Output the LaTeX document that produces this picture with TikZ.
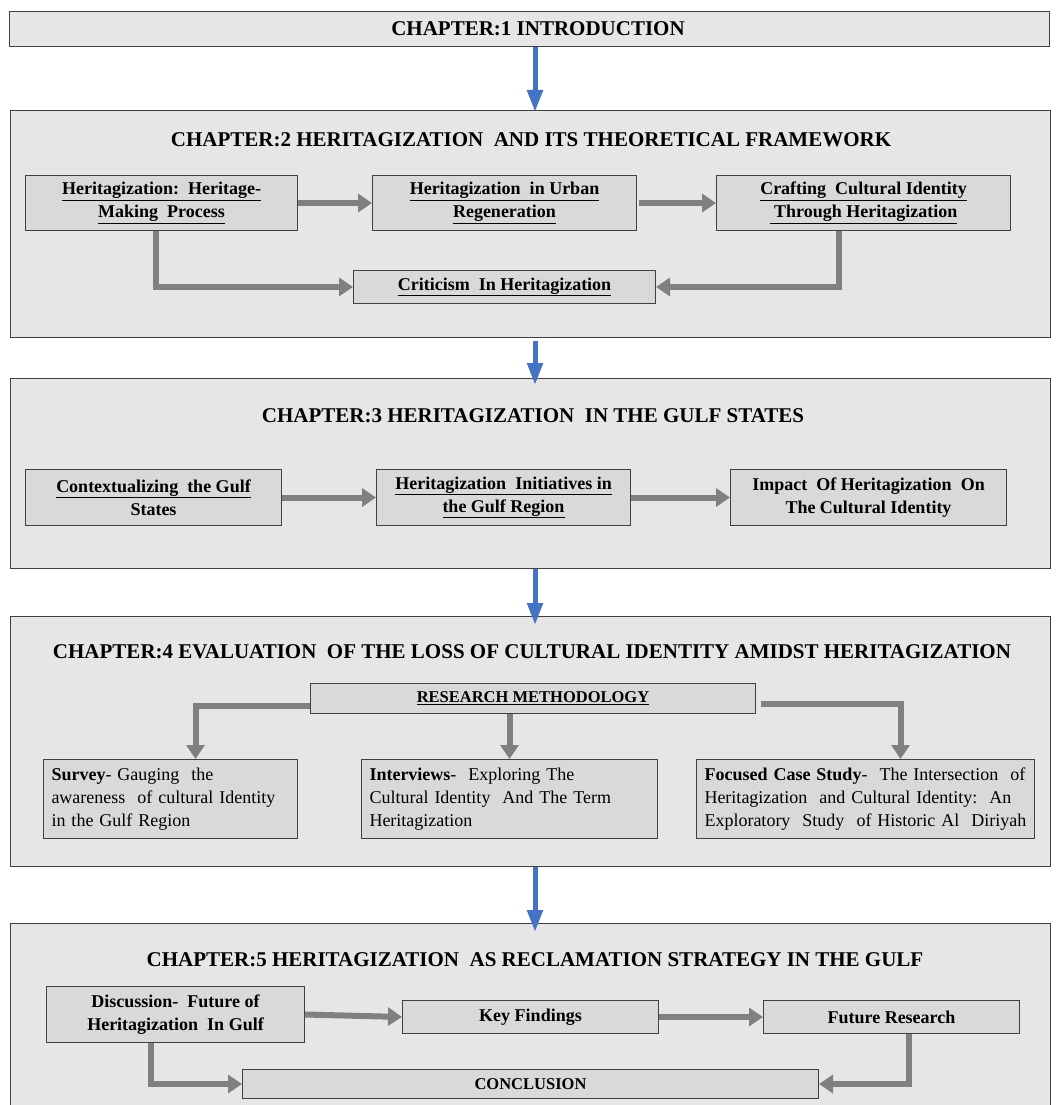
\documentclass[tikz,border=0pt]{standalone}
\usepackage{fontspec}
\setmainfont{Liberation Serif}
\usetikzlibrary{arrows.meta}
\definecolor{outerfill}{HTML}{E6E6E6}
\definecolor{subfill}{HTML}{D9D9D9}
\definecolor{edgecol}{HTML}{404040}
\definecolor{garr}{HTML}{808080}
\definecolor{barr}{HTML}{4472C4}
\begin{document}
\begin{tikzpicture}[x=1pt,y=-1pt,
  chapbox/.style={draw=edgecol, line width=1.2pt, fill=outerfill, anchor=north west, inner sep=0pt, minimum width=1040pt},
  subbox/.style={draw=edgecol, line width=1pt, fill=subfill, anchor=north west, inner sep=0pt, align=center},
  ttl/.style={inner sep=0pt, font=\fontsize{21}{25}\selectfont\bfseries},
  subtxt/.style={font=\fontsize{18}{23}\selectfont\bfseries},
  plaintxt/.style={font=\fontsize{18}{23}\selectfont, align=left, inner xsep=8pt},
  garrow/.style={draw=garr, line width=6pt, -{Triangle[length=14pt,width=18pt]}},
  barrow/.style={draw=barr, line width=5pt, -{Triangle[length=22pt,width=15pt]}}]
\useasboundingbox (0,0) rectangle (1058,1105);
\fill[white] (0,0) rectangle (1058,1105);
\coordinate (ax) at (535,0);

% Chapter boxes
\node[chapbox, minimum height=35pt] (ch1) at (9,11) {};
\node[chapbox, minimum height=227pt] (ch2) at (10,110) {};
\node[chapbox, minimum height=190pt] (ch3) at (10,378) {};
\node[chapbox, minimum height=250pt] (ch4) at (10,616) {};
\node[chapbox, minimum height=192pt] (ch5) at (10,923) {};

% Titles
\node[ttl] (t1) at (538,28.5) {CHAPTER:1 INTRODUCTION};
\node[ttl] (t2) at (531,140) {CHAPTER:2 HERITAGIZATION\ \ AND ITS THEORETICAL FRAMEWORK};
\node[ttl] (t3) at (533,416) {CHAPTER:3 HERITAGIZATION\ \ IN THE GULF STATES};
\node[ttl] (t4) at (532,652) {CHAPTER:4 EVALUATION\ \ OF THE LOSS OF CULTURAL IDENTITY AMIDST HERITAGIZATION};
\node[ttl] (t5) at (535,960) {CHAPTER:5 HERITAGIZATION\ \ AS RECLAMATION STRATEGY IN THE GULF};

% Blue arrows between chapters
\draw[barrow] (ch1.south -| ax) -- ([yshift=-2pt]ch2.north -| ax);
\draw[barrow] ([yshift=-3pt]ch2.south -| ax) -- ([yshift=-7pt]ch3.north -| ax);
\draw[barrow] (ch3.south -| ax) -- ([yshift=-9pt]ch4.north -| ax);
\draw[barrow] (ch4.south -| ax) -- ([yshift=-9pt]ch5.north -| ax);

% Chapter 2
\node[subbox, subtxt, minimum width=272pt, minimum height=55pt] (a) at (25,175) {\underline{Heritagization:\ \ Heritage-}\\\underline{Making\ \ Process}};
\node[subbox, subtxt, minimum width=264pt, minimum height=55pt] (b) at (372,175) {\underline{Heritagization\ \ in Urban}\\\underline{Regeneration}};
\node[subbox, subtxt, minimum width=294pt, minimum height=55pt] (c) at (716,175) {\underline{Crafting\ \ Cultural Identity}\\\underline{\ Through Heritagization}};
\node[subbox, subtxt, minimum width=302pt, minimum height=33pt] (d) at (353,270) {\underline{Criticism\ \ In Heritagization}};
\draw[garrow] (a.east) -- (b.west);
\draw[garrow] ([xshift=2pt]b.east) -- (c.west);
\draw[garrow] ([xshift=-6pt]a.south) |- (d.west);
\draw[garrow] ([xshift=-25pt]c.south) |- (d.east);

% Chapter 3
\node[subbox, subtxt, minimum width=256pt, minimum height=56pt] (e) at (25,469) {\underline{Contextualizing\ \ the Gulf}\\States};
\node[subbox, subtxt, minimum width=254pt, minimum height=56pt] (f) at (376,469) {\underline{Heritagization\ \ Initiatives in}\\\underline{the Gulf Region}};
\node[subbox, subtxt, minimum width=276pt, minimum height=56pt] (g) at (730,469) {Impact\ \ Of Heritagization\ \ On\\The Cultural Identity};
\draw[garrow] (e.east) -- (f.west);
\draw[garrow] (f.east) -- (g.west);

% Chapter 4
\node[subbox, minimum width=445pt, minimum height=30pt, font=\fontsize{16.5}{20}\selectfont\bfseries] (rm) at (310,683) {\underline{RESEARCH METHODOLOGY}};
\node[subbox, plaintxt, text width=238pt, minimum height=79pt] (s) at (43,759) {\mbox{\textbf{Survey}- Gauging\ \ the}\\\mbox{awareness\ \ of cultural Identity}\\\mbox{in the Gulf Region}};
\node[subbox, plaintxt, text width=280pt, minimum height=79pt] (i) at (361,759) {\mbox{\textbf{Interviews}-\ \ Exploring The}\\\mbox{Cultural Identity\ \ And The Term}\\\mbox{Heritagization}};
\node[subbox, plaintxt, text width=322pt, minimum height=79pt] (fc) at (696,759) {\mbox{\textbf{Focused Case Study}-\ \ The Intersection\ \ of}\\\mbox{Heritagization\ \ and Cultural Identity:\ \ An}\\\mbox{Exploratory\ \ Study\ \ of Historic Al\ \ Diriyah}};
\draw[garrow] ([yshift=-7pt]rm.west) -| ([xshift=25pt]s.north);
\draw[garrow] (rm.south -| i.north) -- (i.north);
\draw[garrow] ([xshift=5pt,yshift=-5pt]rm.east) -| ([xshift=35pt]fc.north);

% Chapter 5
\node[subbox, subtxt, minimum width=258pt, minimum height=56pt] (disc) at (46,986) {Discussion-\ \ Future of\\Heritagization\ \ In Gulf};
\node[subbox, subtxt, minimum width=256pt, minimum height=33pt] (kf) at (402,1000) {Key Findings};
\node[subbox, subtxt, minimum width=256pt, minimum height=33pt] (fr) at (763,1000) {Future Research};
\node[subbox, minimum width=576pt, minimum height=29pt, font=\fontsize{16.5}{20}\selectfont\bfseries] (con) at (242,1069) {CONCLUSION};
\draw[garrow] (disc.east) -- (kf.west);
\draw[garrow] (kf.east) -- (fr.west);
\draw[garrow] ([xshift=-25pt]disc.south) |- (con.west);
\draw[garrow] ([xshift=17pt]fr.south) |- (con.east);
\end{tikzpicture}
\end{document}
